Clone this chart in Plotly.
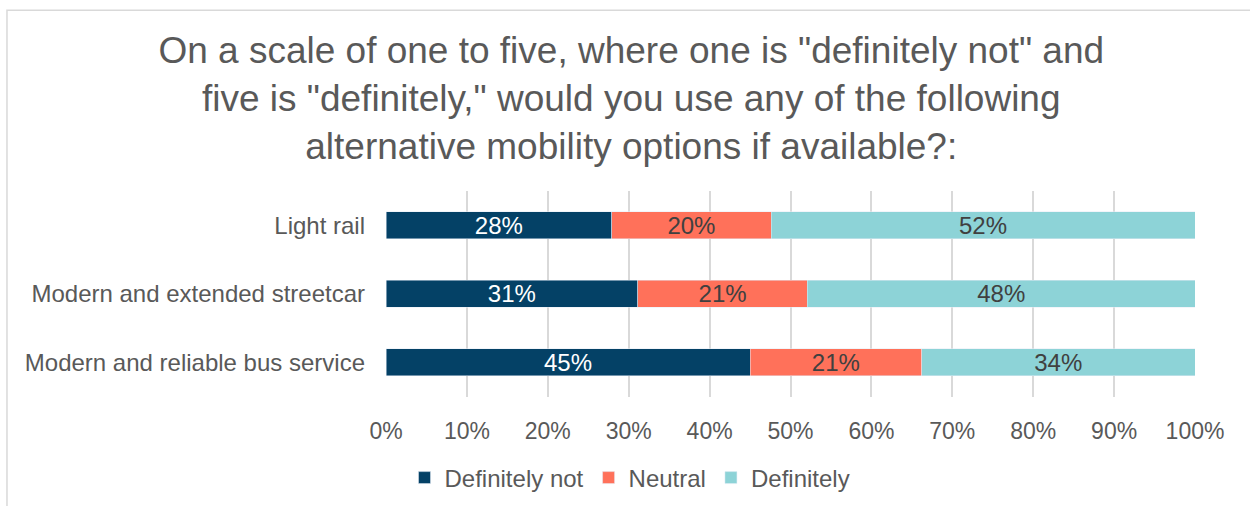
import plotly.graph_objects as go

categories = ["Light rail", "Modern and extended streetcar", "Modern and reliable bus service"]
definitely_not = [27.9, 31.1, 45.0]
neutral = [19.7, 21.0, 21.2]
definitely = [52.4, 47.9, 33.8]

series = [
    ("Definitely not", definitely_not, "#044166", "white"),
    ("Neutral", neutral, "#FF715A", "#404040"),
    ("Definitely", definitely, "#8DD3D7", "#404040"),
]

fig = go.Figure()
for name, values, color, text_color in series:
    fig.add_trace(
        go.Bar(
            y=categories,
            x=values,
            name=name,
            orientation="h",
            marker_color=color,
            texttemplate="%{x:.0f}%",
            textposition="inside",
            insidetextanchor="middle",
            textangle=0,
            constraintext="none",
            textfont=dict(size=24, color=text_color),
            hoverinfo="skip",
        )
    )

# light frame around the chart area
fig.add_shape(
    type="rect", xref="paper", yref="paper",
    x0=-0.4685, x1=1.1, y0=-0.6, y1=1.879,
    line=dict(color="#d9d9d9", width=1.5), layer="below",
)

fig.update_layout(
    barmode="stack",
    bargap=0.61,
    width=1250,
    height=506,
    margin=dict(l=386, r=55, t=191, b=108),
    paper_bgcolor="white",
    plot_bgcolor="white",
    font=dict(family="Liberation Sans, Arial, sans-serif", size=24, color="#595959"),
    title=dict(
        text='On a scale of one to five, where one is "definitely not" and<br>'
             'five is "definitely," would you use any of the following<br>'
             'alternative mobility options if available?:',
        x=0.505, xanchor="center", y=0.875, yanchor="middle",
        font=dict(size=37, color="#595959"),
    ),
    xaxis=dict(
        range=[0, 100], dtick=10, ticksuffix="%",
        showgrid=True, gridcolor="#d9d9d9", gridwidth=2,
        zeroline=False, showline=False, ticks="",
        tickfont=dict(size=23, color="#595959"),
        ticklabelstandoff=18,
    ),
    yaxis=dict(
        autorange="reversed", showgrid=False, ticks="",
        tickfont=dict(size=24, color="#595959"),
        ticklabelstandoff=20,
    ),
    legend=dict(
        orientation="h", xref="container", x=0.504, xanchor="center",
        yref="container", y=0.0553, yanchor="middle",
        font=dict(size=24, color="#595959"), traceorder="normal",
        itemwidth=30,
    ),
)

fig.write_html(
    "out.html",
    config={"displayModeBar": False},
    post_script="document.body.style.margin='0';",
)
